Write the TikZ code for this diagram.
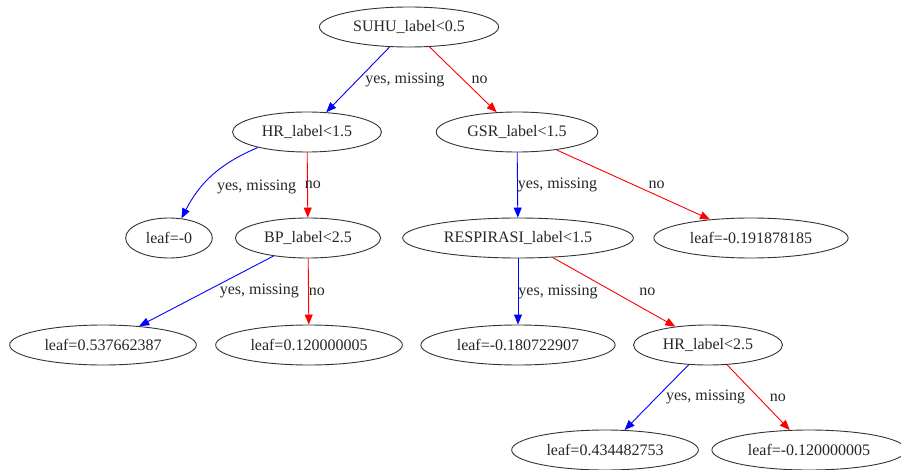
\documentclass[tikz,border=0pt]{standalone}
\usepackage{fontspec}
\setmainfont{Liberation Serif}
\usepackage{tikz}
\usetikzlibrary{shapes,arrows.meta,calc}
\tikzset{test/.style={draw=black!80, ellipse, line width=0.9pt, inner xsep=7.5pt, inner ysep=2pt, minimum height=40pt, text=black!85, font=\fontsize{16}{19}\selectfont}}
\tikzset{yesarrow/.style={-{Triangle[length=10pt,width=8pt]}, line width=0.9pt, color=blue}}
\tikzset{noarrow/.style={-{Triangle[length=10pt,width=8pt]}, line width=0.9pt, color=red}}
\tikzset{lbl/.style={anchor=west, inner sep=1pt, text=black!85, font=\fontsize{16}{19}\selectfont}}

\begin{document}
\begin{tikzpicture}[x=1pt, y=-1pt]
  \useasboundingbox (0,0) rectangle (901,470);

  % Nodos de decision
  \node[test] (suhu) at (409,27) {SUHU\_label<0.5};
  \node[test] (hrA) at (307,132) {HR\_label<1.5};
  \node[test] (gsr) at (517,132) {GSR\_label<1.5};
  \node[test] (bp) at (308,238) {BP\_label<2.5};
  \node[test] (resp) at (518,238) {RESPIRASI\_label<1.5};
  \node[test] (hrB) at (708,345) {HR\_label<2.5};

  % Hojas
  \node[test] (leafA) at (169,238) {leaf=-0};
  \node[test] (leafB) at (751,238) {leaf=-0.191878185};
  \node[test] (leafC) at (103,345) {leaf=0.537662387};
  \node[test] (leafD) at (309,345) {leaf=0.120000005};
  \node[test] (leafE) at (518,345) {leaf=-0.180722907};
  \node[test] (leafF) at (605,450) {leaf=0.434482753};
  \node[test] (leafG) at (809,450) {leaf=-0.120000005};

  % Ramas yes / no
  \draw[yesarrow] (suhu) -- node[lbl, xshift=6pt] {yes, missing} (hrA);
  \draw[noarrow] (suhu) -- node[lbl, xshift=7pt] {no} (gsr);
  \draw[yesarrow] (hrA) to[bend right=20] node[lbl, xshift=3pt, yshift=-12pt] {yes, missing} (leafA);
  \draw[noarrow] (hrA) -- node[lbl, xshift=-4pt] {no} (bp);
  \draw[yesarrow] (bp) -- node[lbl, xshift=12pt] {yes, missing} (leafC);
  \draw[noarrow] (bp) -- node[lbl, xshift=-1pt] {no} (leafD);
  \draw[yesarrow] (gsr) -- node[lbl, xshift=-1pt] {yes, missing} (resp);
  \draw[noarrow] (gsr) -- node[lbl, xshift=14pt] {no} (leafB);
  \draw[yesarrow] (resp) -- node[lbl, xshift=-1pt] {yes, missing} (leafE);
  \draw[noarrow] (resp) -- node[lbl, xshift=24pt] {no} (hrB);
  \draw[yesarrow] (hrB) -- node[lbl, xshift=8pt] {yes, missing} (leafF);
  \draw[noarrow] (hrB) -- node[lbl, xshift=10pt] {no} (leafG);
\end{tikzpicture}
\end{document}
